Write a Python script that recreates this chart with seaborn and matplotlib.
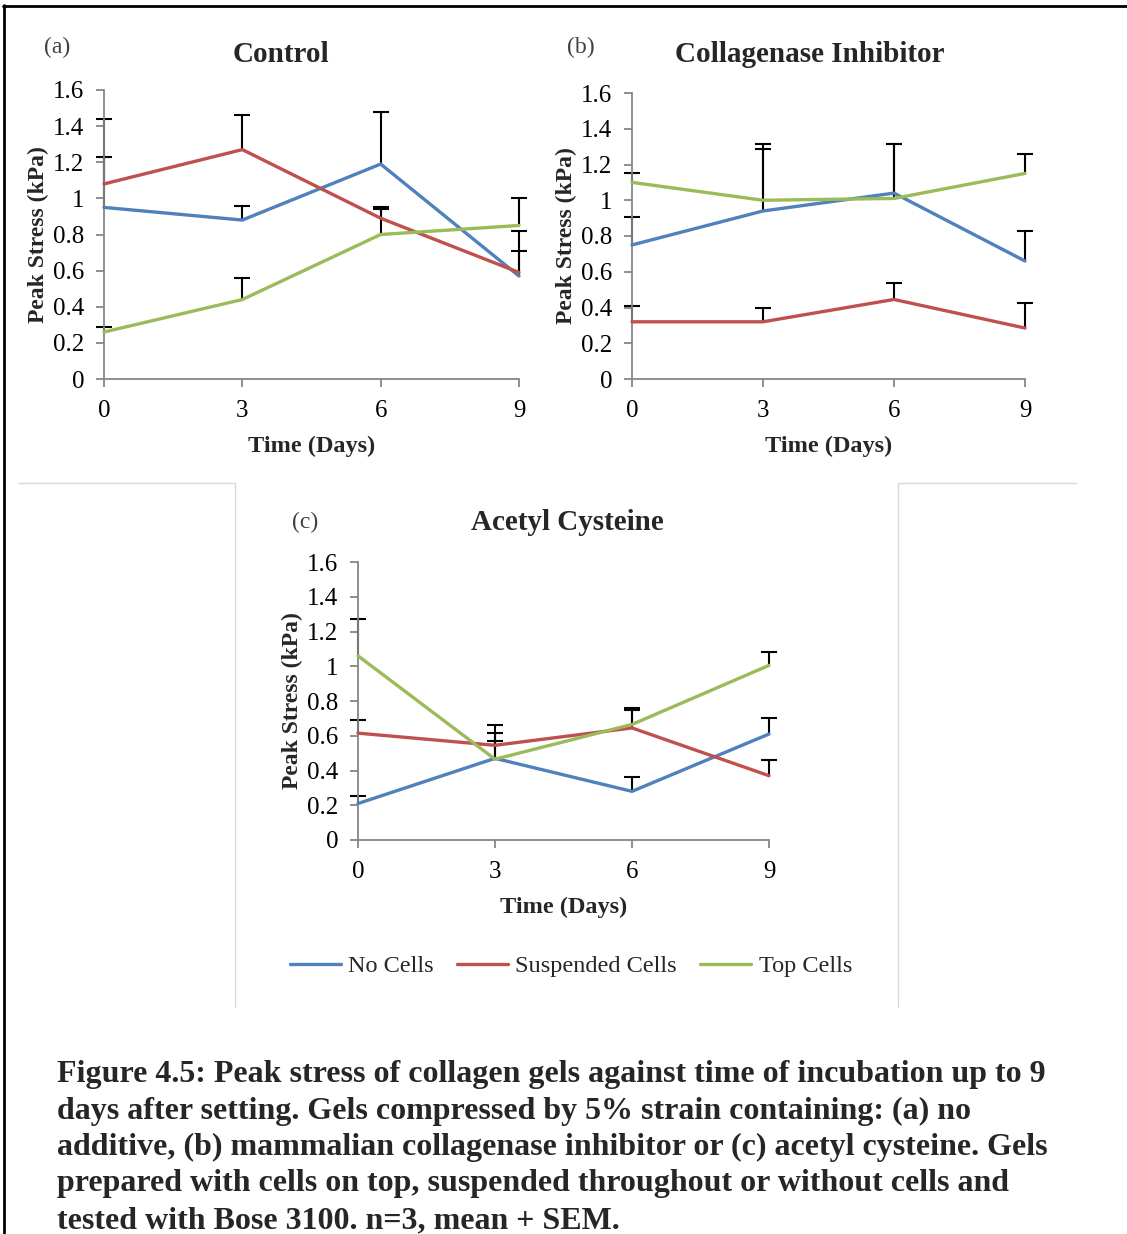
import numpy as np
import pandas as pd
import seaborn as sns
import matplotlib
matplotlib.use("Agg")
import matplotlib.pyplot as plt
from matplotlib.lines import Line2D
from matplotlib.ticker import FuncFormatter

# data, days 0/3/6/9, mean and +SEM
days = [0, 3, 6, 9]
groups = ["No Cells", "Suspended Cells", "Top Cells"]
colors = ["#4F81BD", "#C0504D", "#9BBB59"]

control_mean = {
    "No Cells": [0.95, 0.88, 1.19, 0.57],
    "Suspended Cells": [1.08, 1.27, 0.89, 0.59],
    "Top Cells": [0.26, 0.44, 0.80, 0.85],
}
control_sem = {
    "No Cells": [0.28, 0.08, 0.29, 0.14],
    "Suspended Cells": [0.36, 0.19, 0.06, 0.23],
    "Top Cells": [0.03, 0.12, 0.14, 0.15],
}

inhib_mean = {
    "No Cells": [0.75, 0.94, 1.04, 0.66],
    "Suspended Cells": [0.32, 0.32, 0.445, 0.285],
    "Top Cells": [1.10, 1.00, 1.01, 1.15],
}
inhib_sem = {
    "No Cells": [0.155, 0.375, 0.275, 0.17],
    "Suspended Cells": [0.09, 0.08, 0.09, 0.14],
    "Top Cells": [0.055, 0.285, 0.305, 0.11],
}

acetyl_mean = {
    "No Cells": [0.21, 0.47, 0.28, 0.61],
    "Suspended Cells": [0.615, 0.545, 0.645, 0.37],
    "Top Cells": [1.06, 0.465, 0.665, 1.005],
}
acetyl_sem = {
    "No Cells": [0.045, 0.145, 0.08, 0.09],
    "Suspended Cells": [0.075, 0.115, 0.105, 0.09],
    "Top Cells": [0.21, 0.105, 0.095, 0.075],
}

yticks = [0, 0.2, 0.4, 0.6, 0.8, 1, 1.2, 1.4, 1.6]

caption = [
    "Figure 4.5: Peak stress of collagen gels against time of incubation up to 9",
    "days after setting. Gels compressed by 5% strain containing: (a) no",
    "additive, (b) mammalian collagenase inhibitor or (c) acetyl cysteine. Gels",
    "prepared with cells on top, suspended throughout or without cells and",
    "tested with Bose 3100. n=3, mean + SEM.",
]

sns.set_theme(style="white")
plt.rcParams['font.family'] = ['Liberation Serif', 'DejaVu Serif']

W, H = 1127, 1234
fig = plt.figure(figsize=(W / 100, H / 100), dpi=100)

def fx(x):
    return x / W

def fy(y):
    return 1 - y / H

grey = "#868686"

def panel(x0, x1, ytop, ybot, means, sems, title, title_xy, letter, letter_xy):
    ax = fig.add_axes([fx(x0), fy(ybot), fx(x1 - x0), (ybot - ytop) / H])
    rows = []
    for g in groups:
        for d, m in zip(days, means[g]):
            rows.append({"day": d, "stress": m, "group": g})
    df = pd.DataFrame(rows)
    for g in groups:
        sem = np.array(sems[g])
        eb = ax.errorbar(days, means[g], yerr=[np.zeros_like(sem), sem], fmt="none",
                         ecolor="black", elinewidth=1.5, capsize=5.5, capthick=1.5,
                         zorder=2, clip_on=False)
        # only the upper caps (mean + SEM)
        for cap in eb[1]:
            if np.allclose(cap.get_ydata(), means[g]):
                cap.set_visible(False)
    sns.lineplot(data=df, x="day", y="stress", hue="group", palette=colors,
                 hue_order=groups, linewidth=2.4, legend=False, ax=ax,
                 zorder=3, clip_on=False)
    ax.set_xlim(0, 9)
    ax.set_ylim(0, 1.6)
    ax.set_xticks(days)
    ax.set_yticks(yticks)
    ax.yaxis.set_major_formatter(FuncFormatter(lambda v, p: f"{v:g}"))
    for s in ["top", "right"]:
        ax.spines[s].set_visible(False)
    for s in ["left", "bottom"]:
        ax.spines[s].set_color(grey)
        ax.spines[s].set_linewidth(1.3)
    ax.tick_params(axis="both", direction="out", length=6, width=1.3,
                   color=grey, labelsize=18, labelcolor="black")
    ax.tick_params(axis="y", pad=8, left=True)
    ax.tick_params(axis="x", pad=9, bottom=True)
    ax.set_xlabel("Time (Days)", fontsize=17.5, fontweight="bold", va="center")
    ax.set_ylabel("Peak Stress (kPa)", fontsize=17, fontweight="bold", va="center")
    ax.xaxis.set_label_coords(0.5, -67 / (ybot - ytop))
    ax.yaxis.set_label_coords(-66 / (x1 - x0), 0.5)
    ax.grid(False)
    fig.text(fx(title_xy[0]), fy(title_xy[1]), title, ha="center", va="center",
             fontsize=21, fontweight="bold")
    fig.text(fx(letter_xy[0]), fy(letter_xy[1]), letter, ha="center", va="center",
             fontsize=17, color="#404040")
    return ax

panel(104, 519, 90, 379, control_mean, control_sem, "Control", (281, 54), "(a)", (57, 47))
panel(632, 1025, 93, 379, inhib_mean, inhib_sem, "Collagenase Inhibitor", (810, 54), "(b)", (581, 47))
panel(358, 769, 562, 840, acetyl_mean, acetyl_sem, "Acetyl Cysteine", (567, 523), "(c)", (305, 522))

handles = [Line2D([0], [0], color=c, lw=2.4) for c in colors]
fig.legend(handles, groups, loc="center", bbox_to_anchor=(fx(571), fy(966)),
           ncol=3, frameon=False, fontsize=17.5, handlelength=2.1,
           handletextpad=0.3, columnspacing=0.95)

# light frame around panel (c)
frame = "#d9d9d9"
fig.add_artist(Line2D([fx(18), fx(235)], [fy(483), fy(483)], color=frame, lw=1))
fig.add_artist(Line2D([fx(235), fx(235)], [fy(483), fy(1007)], color=frame, lw=1))
fig.add_artist(Line2D([fx(898), fx(1076)], [fy(483), fy(483)], color=frame, lw=1))
fig.add_artist(Line2D([fx(898), fx(898)], [fy(483), fy(1007)], color=frame, lw=1))

# outer black border (top and left)
fig.add_artist(Line2D([fx(3), 1], [fy(5.5), fy(5.5)], color="black", lw=2))
fig.add_artist(Line2D([fx(4), fx(4)], [fy(5), 0], color="black", lw=2))

for i, line in enumerate(caption):
    fig.text(fx(57), fy(1082 + 36.5 * i), line, ha="left", va="baseline",
             fontsize=23, fontweight="bold")

fig.savefig("out.png", dpi=100)
